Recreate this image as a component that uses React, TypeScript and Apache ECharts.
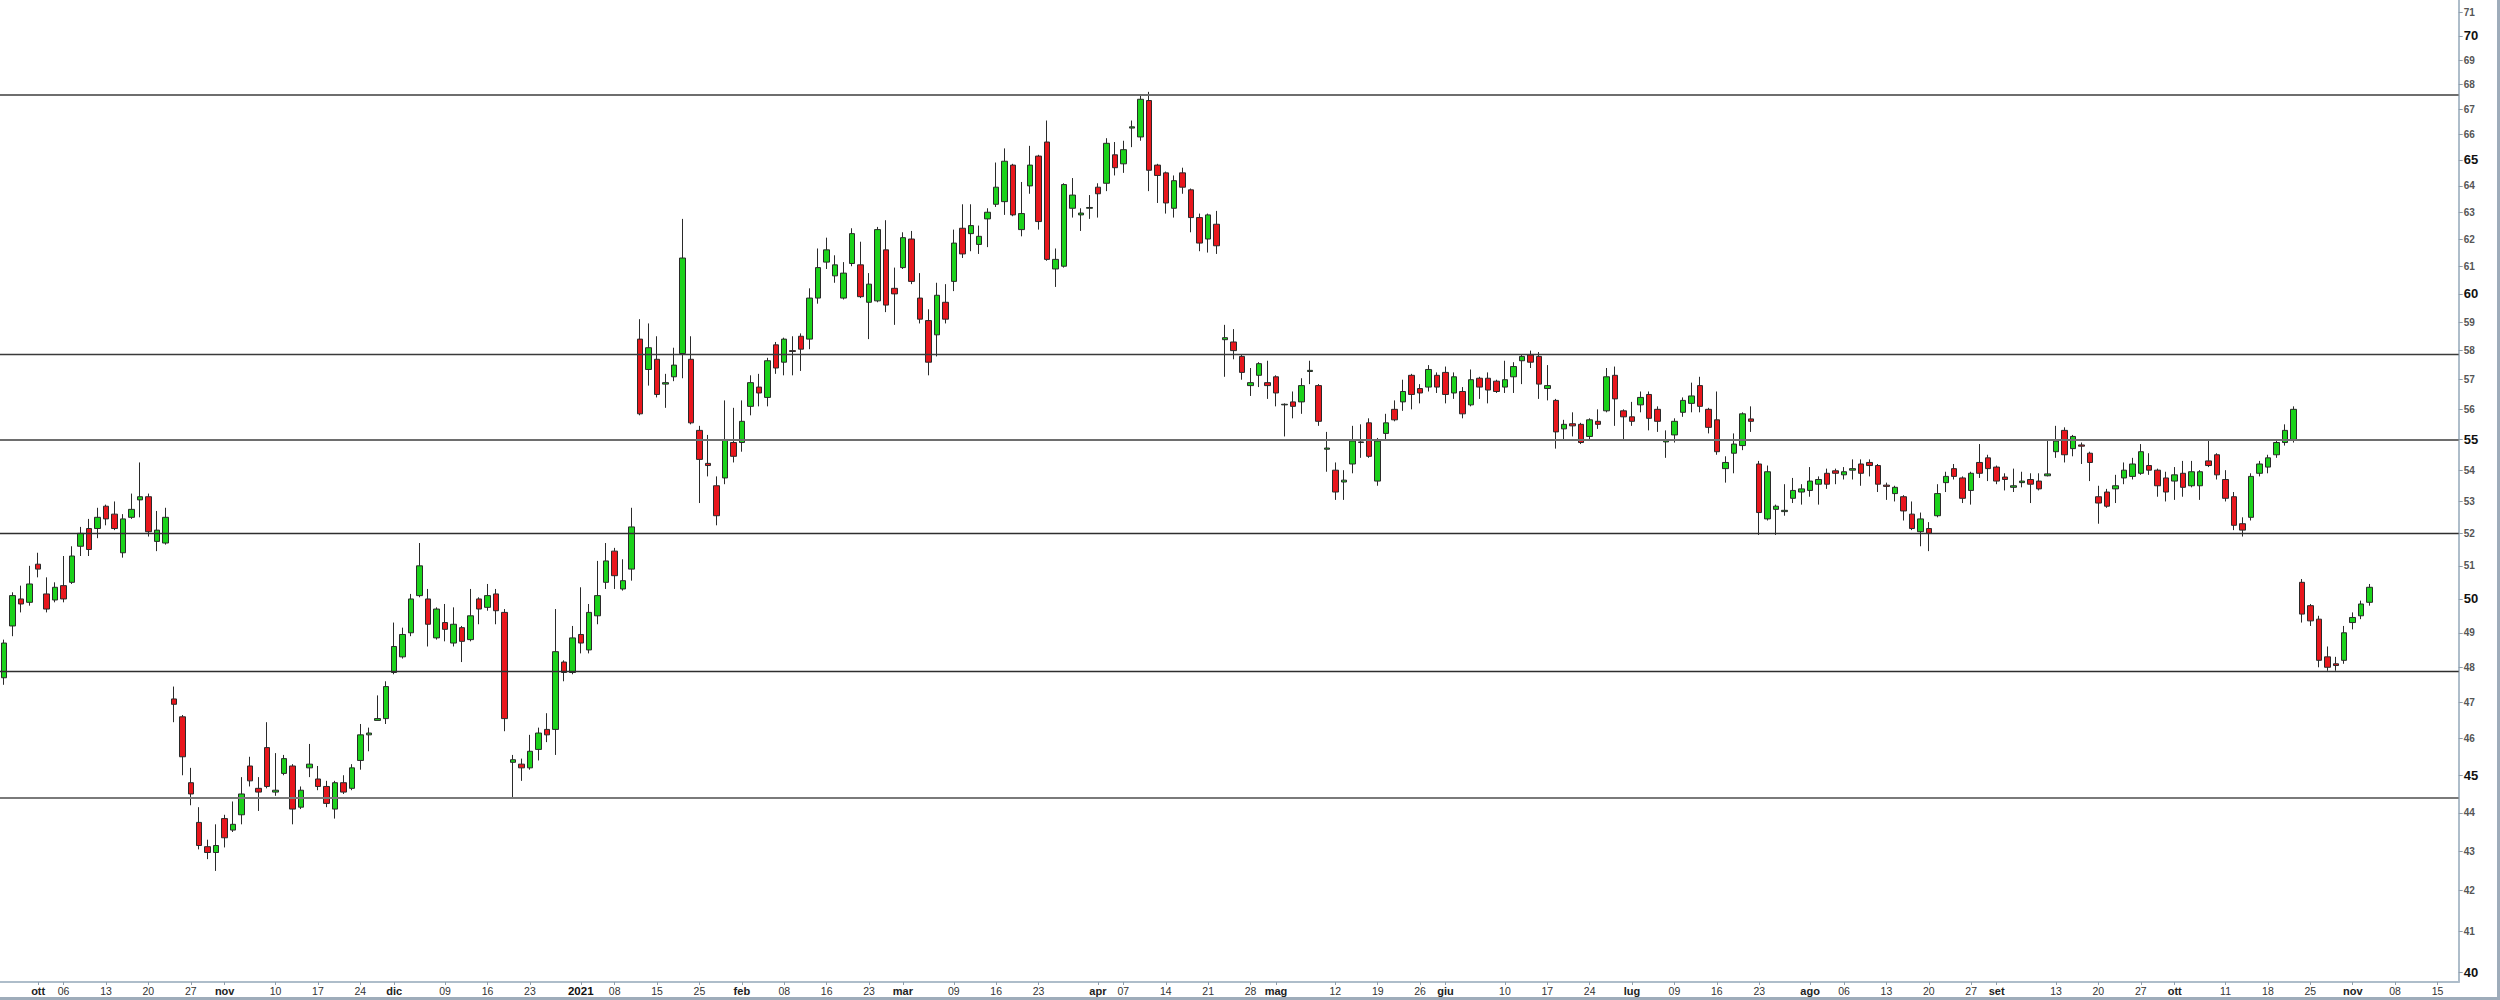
import React, { useEffect, useRef } from "react";
import * as echarts from "echarts";

// US market holidays inside the window (no bar on these days)
const holidays = [
  "2020-11-26", "2020-12-25", "2021-01-01", "2021-01-18", "2021-02-15",
  "2021-04-02", "2021-05-31", "2021-07-05", "2021-09-06",
];
const firstDay = "2020-09-25";
const lastAxisDay = "2021-11-17";

// OHLC values, one per trading day from 2020-09-25 to 2021-11-03
const open = [
  47.7, 49.2, 50.0, 49.9,
  51.05, 50.15, 49.97, 50.4, 50.5, 51.6, 52.15, 52.15, 52.85, 52.6, 51.4, 52.5, 53.05, 53.15, 51.75, 51.7, 47.1, 46.6, 44.8, 43.75, 43.12, 42.97,
  43.85, 43.55, 43.95, 45.25, 44.65, 45.75, 44.55, 45.05, 45.25, 44.15, 45.2, 44.9, 44.7, 44.1, 44.8, 44.65, 45.4, 46.1, 46.5, 46.55,
  47.85, 48.3, 49.0, 50.1, 50.0, 48.85, 49.3, 48.7, 49.15, 48.8, 50.0, 49.75, 50.15, 49.6, 45.35, 45.3, 45.2, 45.7, 46.25, 46.25, 48.15, 47.85,
  48.95, 48.5, 49.5, 50.5, 51.45, 50.3, 50.9, 58.4, 57.35, 57.7, 56.85, 57.1, 57.9, 57.7, 55.3, 54.22, 53.5, 53.75, 54.9,
  54.9, 56.1, 56.75, 56.4, 58.2, 57.6, 58.0, 58.5, 58.4, 59.85, 61.15, 60.65, 59.85, 61.1, 61.05, 59.7, 59.75, 61.6, 60.2,
  60.95, 62.0, 59.85, 59.05, 58.55, 59.7, 60.45, 62.4, 62.2, 61.8, 62.75, 63.3, 63.4, 64.8, 62.35, 64.0, 65.15, 65.7, 60.9, 61.0, 63.15, 62.9, 63.15,
  63.95, 64.1, 65.2, 64.85, 66.25, 65.9, 67.35, 64.8, 64.5, 63.15, 64.5, 63.85, 62.8, 62.0, 62.55, 58.38, 58.3, 57.8, 56.8, 57.15, 56.9,
  57.1, 56.15, 56.25, 56.25, 57.28, 56.8, 54.68, 54.0, 53.62, 54.2, 54.9, 55.55, 53.65, 55.2, 56.0, 56.25, 57.15, 56.7, 56.75, 57.15,
  57.25, 56.55, 56.6, 56.15, 57.05, 57.05, 56.95, 56.75, 57.1, 57.65, 57.85, 57.8, 56.7, 56.3, 55.35, 55.52, 55.5, 55.1, 55.6, 55.95, 57.15, 55.95,
  55.75, 56.15, 56.5, 56.0, 54.92, 55.15, 55.9, 56.2, 56.8, 56.0, 55.65, 54.05, 54.55, 54.8, 55.68, 54.2, 52.45, 52.75, 52.68, 53.1, 53.3,
  53.35, 53.55, 53.9, 53.98, 53.85, 54.0, 54.2, 54.25, 54.15, 53.52, 53.25, 53.15, 52.6, 52.05, 52.15, 52.55, 53.6, 54.05, 53.75, 53.35, 54.25, 54.4,
  54.1, 53.78, 53.45, 53.6, 53.7, 53.65, 53.82, 54.6, 55.3, 54.7, 54.82, 54.55, 53.15, 53.3, 53.4, 53.75, 53.8, 53.9, 54.15, 54.0, 53.75,
  53.65, 53.9, 53.5, 53.5, 54.3, 54.5, 53.7, 53.15, 52.3, 52.5, 53.9, 54.1, 54.5, 54.9, 55.0, 50.5, 49.8, 49.4, 48.3, 48.1, 48.2,
  49.3, 49.5, 49.9,
];
const high = [
  48.8, 50.2, 50.4, 51.0,
  51.4, 50.65, 50.5, 51.3, 51.6, 52.2, 52.45, 52.8, 52.9, 53.0, 52.6, 53.25, 54.25, 53.25, 52.7, 52.8, 47.45, 46.65, 45.2, 44.15, 43.3, 43.7,
  43.95, 44.3, 44.95, 45.5, 44.95, 46.45, 45.6, 45.55, 45.3, 44.7, 45.85, 45.25, 44.85, 44.85, 45.0, 45.3, 46.4, 46.3, 47.2, 47.6,
  49.3, 49.15, 50.15, 51.7, 50.3, 49.75, 49.85, 49.75, 49.2, 50.3, 50.05, 50.45, 50.3, 49.7, 45.55, 45.45, 46.1, 46.3, 46.7, 49.7, 48.2, 49.2,
  50.35, 49.85, 51.15, 51.7, 51.55, 51.2, 52.8, 59.1, 58.95, 58.5, 57.2, 58.1, 62.75, 58.5, 55.45, 55.15, 53.8, 56.3, 56.05,
  56.3, 57.15, 57.2, 57.75, 58.3, 58.45, 58.5, 58.6, 60.2, 61.65, 62.05, 61.4, 61.15, 62.4, 61.9, 60.75, 62.45, 62.7, 60.95,
  62.25, 62.3, 60.75, 59.45, 60.4, 60.35, 62.35, 63.3, 63.3, 62.5, 63.15, 64.9, 65.45, 64.85, 64.15, 65.55, 65.2, 66.55, 61.65, 64.1, 64.3, 63.15, 63.65,
  64.1, 65.85, 65.7, 65.75, 66.55, 67.55, 67.7, 64.85, 64.55, 64.4, 64.7, 63.9, 62.95, 62.95, 63.05, 58.9, 58.75, 57.85, 57.4, 57.6, 57.65,
  57.15, 56.2, 56.6, 57.05, 57.65, 56.85, 55.25, 54.25, 54.0, 55.45, 55.5, 55.7, 55.05, 55.85, 56.3, 57.0, 57.2, 56.85, 57.5, 57.25,
  57.45, 57.25, 56.75, 57.35, 57.1, 57.25, 57.0, 57.65, 57.6, 57.85, 58.0, 57.95, 57.5, 56.35, 55.65, 55.9, 55.55, 55.7, 56.0, 57.4, 57.45, 56.0,
  56.25, 56.6, 56.6, 56.1, 55.3, 55.7, 56.4, 56.9, 57.1, 56.05, 56.6, 54.45, 55.2, 55.9, 56.1, 54.3, 54.15, 52.9, 53.55, 53.75, 53.55,
  54.1, 53.8, 54.05, 54.05, 54.1, 54.35, 54.35, 54.35, 54.2, 53.6, 53.5, 53.2, 53.0, 52.65, 52.35, 53.55, 53.95, 54.2, 53.8, 53.95, 54.85, 54.5,
  54.15, 53.9, 54.05, 53.95, 53.9, 53.9, 54.95, 55.45, 55.4, 55.15, 54.9, 54.6, 53.5, 53.4, 53.85, 54.25, 54.4, 54.85, 54.55, 54.05, 53.95,
  54.1, 54.3, 54.3, 54.0, 54.95, 54.55, 54.0, 53.3, 52.5, 53.9, 54.3, 54.5, 55.0, 55.5, 56.1, 50.6, 49.85, 49.5, 48.6, 48.3, 49.2,
  49.6, 49.95, 50.45,
];
const low = [
  47.5, 48.9, 49.6, 49.8,
  50.65, 49.6, 49.9, 49.9, 50.45, 51.3, 51.3, 51.85, 52.25, 52.1, 51.25, 52.45, 52.5, 51.9, 51.45, 51.65, 46.45, 45.0, 44.2, 43.05, 42.8, 42.5,
  43.1, 43.5, 43.7, 44.7, 44.05, 44.65, 44.45, 45.0, 43.7, 44.1, 44.95, 44.6, 44.15, 43.85, 44.5, 44.6, 45.15, 45.65, 46.5, 46.4,
  47.8, 48.25, 48.9, 50.05, 48.6, 48.8, 48.75, 48.6, 48.15, 48.75, 49.25, 49.65, 49.25, 46.2, 44.4, 44.85, 45.15, 45.4, 45.9, 45.55, 47.6, 47.8,
  48.4, 48.4, 49.25, 50.3, 50.3, 50.25, 50.55, 55.8, 56.8, 56.4, 56.05, 56.95, 57.05, 55.5, 52.95, 53.8, 52.25, 53.55, 54.25,
  54.6, 55.8, 56.1, 56.1, 57.2, 57.15, 57.15, 57.3, 58.05, 59.65, 60.9, 60.4, 59.8, 61.0, 59.85, 58.4, 59.7, 59.35, 58.9,
  60.9, 60.35, 58.95, 57.15, 57.8, 58.95, 60.1, 61.3, 61.55, 61.45, 61.7, 63.2, 62.9, 62.85, 62.1, 63.7, 62.35, 61.2, 60.25, 60.95, 62.8, 62.3, 62.75,
  62.8, 63.8, 64.4, 64.5, 65.5, 65.75, 63.8, 63.35, 62.95, 62.8, 63.7, 62.25, 61.55, 61.5, 61.45, 57.1, 57.7, 57.0, 56.45, 56.75, 56.35,
  56.1, 55.1, 55.7, 55.85, 56.85, 55.45, 53.95, 53.05, 53.05, 53.9, 54.4, 54.4, 53.5, 54.95, 55.6, 55.95, 56.0, 56.2, 56.6, 56.55,
  56.2, 56.35, 55.7, 56.1, 56.35, 56.2, 56.55, 56.55, 56.55, 56.85, 57.4, 56.35, 56.3, 54.7, 54.95, 55.1, 54.85, 54.95, 55.35, 55.9, 55.45, 54.95,
  55.45, 55.9, 55.3, 55.25, 54.4, 54.9, 55.75, 55.9, 55.9, 55.2, 54.5, 53.6, 53.9, 54.65, 55.25, 51.95, 52.4, 51.95, 52.55, 52.95, 52.9,
  53.15, 52.9, 53.4, 53.55, 53.7, 53.7, 53.5, 53.8, 53.3, 53.05, 53.0, 52.4, 52.1, 51.6, 51.45, 52.5, 53.3, 53.7, 52.95, 52.9, 53.75, 53.65,
  53.55, 53.35, 53.3, 53.45, 52.95, 53.35, 53.8, 54.4, 54.25, 54.45, 54.2, 53.65, 52.3, 52.8, 52.95, 53.55, 53.7, 53.85, 53.85, 53.15, 53.0,
  53.05, 53.15, 53.45, 53.05, 54.1, 53.7, 53.0, 52.1, 51.9, 52.4, 53.8, 53.9, 54.4, 54.8, 54.9, 49.3, 49.2, 48.0, 47.9, 47.9, 48.1,
  49.1, 49.4, 49.8,
];
const close = [
  48.7, 50.1, 49.85, 50.45,
  50.9, 49.7, 50.35, 50.0, 51.3, 52.0, 51.5, 52.5, 52.45, 52.15, 52.45, 52.75, 53.15, 52.05, 52.1, 52.5, 46.95, 45.5, 44.5, 43.15, 42.97, 43.15,
  43.35, 43.7, 44.5, 44.85, 44.55, 44.7, 44.6, 45.45, 44.1, 44.6, 45.3, 44.7, 44.25, 44.8, 44.55, 45.2, 46.1, 46.15, 46.55, 47.45,
  48.6, 48.95, 50.0, 51.0, 49.25, 49.7, 49.1, 49.25, 48.75, 49.5, 49.7, 50.1, 49.65, 46.55, 45.42, 45.2, 45.65, 46.15, 46.1, 48.45, 47.85, 48.85,
  48.7, 49.6, 50.1, 51.15, 50.7, 50.55, 52.2, 55.85, 58.1, 56.5, 56.9, 57.5, 61.3, 55.55, 54.35, 54.15, 52.55, 55.0, 54.45,
  55.6, 56.9, 56.55, 57.65, 57.4, 58.4, 57.97, 58.05, 59.85, 60.95, 61.6, 61.05, 60.75, 62.2, 59.9, 60.35, 62.35, 59.6, 60.0,
  62.05, 60.45, 59.1, 57.6, 59.95, 59.1, 61.85, 61.45, 62.5, 62.1, 63.0, 63.95, 64.95, 62.9, 62.95, 64.8, 62.65, 61.25, 61.25, 64.05, 63.65, 62.97, 63.18,
  63.7, 65.65, 64.7, 65.4, 66.3, 67.4, 64.6, 64.4, 63.35, 64.2, 63.95, 62.8, 61.85, 62.9, 61.75, 58.45, 58.0, 57.25, 56.9, 57.55, 56.8,
  56.55, 56.17, 56.1, 56.8, 57.32, 55.6, 54.72, 53.3, 53.68, 54.95, 54.92, 54.45, 54.95, 55.55, 55.65, 56.6, 56.5, 56.55, 57.35, 56.75,
  56.5, 57.1, 55.85, 57.0, 56.75, 56.65, 56.6, 57.0, 57.45, 57.8, 57.6, 56.85, 56.8, 55.25, 55.5, 55.45, 54.9, 55.65, 55.5, 57.1, 56.35, 55.75,
  55.6, 56.4, 55.7, 55.6, 54.98, 55.6, 56.3, 56.45, 56.1, 55.4, 54.6, 54.25, 54.85, 55.85, 55.6, 52.65, 53.95, 52.85, 52.72, 53.35, 53.4,
  53.65, 53.7, 53.55, 53.9, 53.95, 54.05, 53.9, 54.15, 53.55, 53.48, 53.45, 52.7, 52.15, 52.45, 52.0, 53.25, 53.8, 53.8, 53.1, 53.9, 53.9, 54.05,
  53.65, 53.7, 53.5, 53.65, 53.55, 53.4, 53.88, 54.95, 54.5, 55.1, 54.78, 54.25, 52.95, 52.85, 53.5, 54.0, 54.2, 54.6, 54.0, 53.5, 53.3,
  53.85, 53.45, 53.95, 53.95, 54.15, 53.85, 53.1, 52.25, 52.1, 53.8, 54.2, 54.4, 54.9, 55.3, 56.0, 49.55, 49.35, 48.2, 48.0, 48.05, 49.0,
  49.45, 49.85, 50.35,
];

// Horizontal support / resistance levels
const levels = [67.6, 57.87, 55.0, 52.0, 47.9, 44.4];
const levelColors = ["#6e6e6e", "#3a3a3a", "#6e6e6e", "#2e2e2e", "#2e2e2e", "#7a7a7a"];
const levelWidths = [2, 1.4, 2, 1.4, 1.4, 2];

// Y tick values (log price scale)
const yTicks = [40, 41, 42, 43, 44, 45, 46, 47, 48, 49, 50, 51, 52, 53, 54, 55, 56, 57, 58, 59, 60, 61, 62, 63, 64, 65, 66, 67, 68, 69, 70, 71];

// X axis labels (date -> text)
const xLabelDates = [
  "2020-10-01", "2020-10-06", "2020-10-13", "2020-10-20", "2020-10-27", "2020-11-02", "2020-11-10", "2020-11-17", "2020-11-24",
  "2020-12-01", "2020-12-09", "2020-12-16", "2020-12-23", "2021-01-04", "2021-01-08", "2021-01-15", "2021-01-25", "2021-02-01",
  "2021-02-08", "2021-02-16", "2021-02-23", "2021-03-01", "2021-03-09", "2021-03-16", "2021-03-23", "2021-04-01", "2021-04-07",
  "2021-04-14", "2021-04-21", "2021-04-28", "2021-05-03", "2021-05-12", "2021-05-19", "2021-05-26", "2021-06-01", "2021-06-10",
  "2021-06-17", "2021-06-24", "2021-07-01", "2021-07-09", "2021-07-16", "2021-07-23", "2021-08-02", "2021-08-06", "2021-08-13",
  "2021-08-20", "2021-08-27", "2021-09-01", "2021-09-13", "2021-09-20", "2021-09-27", "2021-10-01", "2021-10-11", "2021-10-18",
  "2021-10-25", "2021-11-01", "2021-11-08", "2021-11-15",
];
const xLabelTexts = [
  "ott", "06", "13", "20", "27", "nov", "10", "17", "24",
  "dic", "09", "16", "23", "2021", "08", "15", "25", "feb",
  "08", "16", "23", "mar", "09", "16", "23", "apr", "07",
  "14", "21", "28", "mag", "12", "19", "26", "giu", "10",
  "17", "24", "lug", "09", "16", "23", "ago", "06", "13",
  "20", "27", "set", "13", "20", "27", "ott", "11", "18",
  "25", "nov", "08", "15",
];

function tradingDays(): string[] {
  const out: string[] = [];
  const [y0, m0, d0] = firstDay.split("-").map(Number);
  const [y1, m1, d1] = lastAxisDay.split("-").map(Number);
  const d = new Date(Date.UTC(y0, m0 - 1, d0));
  const end = Date.UTC(y1, m1 - 1, d1);
  while (d.getTime() <= end) {
    const wd = d.getUTCDay();
    const s = d.toISOString().slice(0, 10);
    if (wd !== 0 && wd !== 6 && holidays.indexOf(s) < 0) out.push(s);
    d.setUTCDate(d.getUTCDate() + 1);
  }
  return out;
}

const FONT = "'Liberation Sans', Arial, sans-serif";
const AXIS_COLOR = "#aebdca";

export default function App() {
  const ref = useRef<HTMLDivElement>(null);
  useEffect(() => {
    if (!ref.current) return;
    const chart = echarts.init(ref.current, undefined, { renderer: "svg" });
    const days = tradingDays();
    const labelMap: Record<string, string> = {};
    xLabelDates.forEach((d, i) => (labelMap[d] = xLabelTexts[i]));
    const months = ["ott", "nov", "dic", "feb", "mar", "apr", "mag", "giu", "lug", "ago", "set"];
    const candles = days.map((_, i) =>
      i < open.length ? [open[i], close[i], low[i], high[i]] : "-"
    );
    const option: any = {
      animation: false,
      backgroundColor: "#ffffff",
      grid: { left: -7.3, top: 0, width: 2466, height: 982, containLabel: false },
      xAxis: {
        type: "category",
        data: days,
        boundaryGap: true,
        axisLine: { show: true, lineStyle: { color: AXIS_COLOR, width: 2 } },
        axisTick: {
          show: true,
          alignWithLabel: true,
          length: 3,
          interval: (_i: number, v: string) => labelMap[v] !== undefined,
          lineStyle: { color: "#8d9caa" },
        },
        axisLabel: {
          show: true,
          margin: 3,
          interval: (_i: number, v: string) => labelMap[v] !== undefined,
          formatter: (v: string) => {
            const t = labelMap[v];
            if (t === undefined) return "";
            if (t === "2021") return "{y|2021}";
            if (months.indexOf(t) >= 0) return "{m|" + t + "}";
            return "{d|" + t + "}";
          },
          rich: {
            d: { fontFamily: FONT, fontSize: 10.5, color: "#333" },
            m: { fontFamily: FONT, fontSize: 11, fontWeight: "bold", color: "#222" },
            y: { fontFamily: FONT, fontSize: 11.5, fontWeight: "bold", color: "#111" },
          },
        },
        splitLine: { show: false },
      },
      yAxis: {
        type: "log",
        logBase: 10,
        position: "right",
        min: 39.77,
        max: 71.52,
        axisLine: { show: true, lineStyle: { color: AXIS_COLOR, width: 2 } },
        axisTick: {
          show: true,
          length: 4,
          customValues: yTicks,
          lineStyle: { color: "#8d9caa" },
        },
        axisLabel: {
          show: true,
          margin: 5,
          customValues: yTicks,
          formatter: (v: number) => {
            const r = Math.round(v);
            return r % 5 === 0 ? "{b|" + r + "}" : "{n|" + r + "}";
          },
          rich: {
            b: { fontFamily: FONT, fontSize: 13, fontWeight: "bold", color: "#111" },
            n: { fontFamily: FONT, fontSize: 10, fontWeight: "bold", color: "#555" },
          },
        },
        splitLine: { show: false },
      },
      series: [
        {
          type: "candlestick",
          data: candles,
          barWidth: 6,
          itemStyle: {
            color: "#1bd21b",
            color0: "#e8161c",
            borderColor: "#2a2a2a",
            borderColor0: "#2a2a2a",
            borderWidth: 1,
          },
          markLine: {
            silent: true,
            symbol: ["none", "none"],
            label: { show: false },
            data: levels.map((v, i) => ({
              yAxis: v,
              lineStyle: { color: levelColors[i], width: levelWidths[i], type: "solid" },
            })),
          },
        },
      ],
    };
    chart.setOption(option);
    return () => chart.dispose();
  }, []);
  return (
    <div
      style={{
        position: "fixed",
        left: 0,
        top: 0,
        width: 2500,
        height: 1000,
        boxSizing: "border-box",
        borderRight: "3px solid #9eacba",
        borderBottom: "3px solid #9eacba",
        background: "#fff",
      }}
    >
      <div ref={ref} style={{ width: 2497, height: 997 }} />
    </div>
  );
}
